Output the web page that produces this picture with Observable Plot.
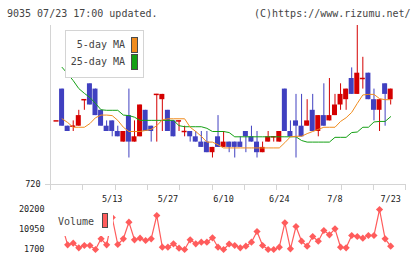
<!DOCTYPE html>
<html>
<head>
<meta charset="utf-8">
<script src="https://cdn.jsdelivr.net/npm/d3@7"></script>
<script src="https://cdn.jsdelivr.net/npm/@observablehq/plot@0.6"></script>
<style>
  html, body { margin: 0; padding: 0; background: #fff; }
  #chart { position: relative; width: 420px; height: 259px; overflow: hidden;
           font-family: "DejaVu Sans Mono", monospace; color: #444; }
  #chart svg { position: absolute; left: 0; }
  .txt { position: absolute; font-size: 10px; line-height: 12px; white-space: pre; }
  .box { position: absolute; box-sizing: border-box; }
  .sw { position: absolute; box-sizing: border-box; border: 1px solid #4a4a4a; }
</style>
</head>
<body>
<div id="chart">
  <div class="txt" style="left:7px;top:8px;">9035 07/23 17:00 updated.</div>
  <div class="txt" style="left:254px;top:8px;">(C)https://www.rizumu.net/</div>
</div>
<script>
// Daily candles, trading days 4/24 .. 7/23 (index 0..60)
const opens  = [732,738,731,731,731,736,739,738,734,731, 732,730,728,733,728,729,734,731,737,736,
                734,732,732,730,730,729,728,728,726,729, 727,728,728,728,730,729,728,726,728,729,
                728,738,730,732,731,731,734,730,733,732, 733,735,736,740,737,740,741,736,734,739, 736];
const highs  = [732,738,731,732,734,736,739,738,734,732, 732,731,730,738,732,735,734,731,737,737,
                734,732,732,731,730,730,730,730,727,733, 730,728,728,729,730,731,730,728,730,729,
                730,738,732,737,737,736,737,733,739,740, 737,739,738,742,750,744,741,738,736,739, 738];
const lows   = [732,731,730,730,731,734,735,733,731,730, 729,729,728,725,728,729,730,728,728,730,
                730,729,730,729,728,728,727,726,725,727, 727,726,725,727,726,728,725,726,728,728,
                728,730,729,725,729,731,730,729,731,732, 733,734,734,737,737,738,736,732,730,731, 735];
const closes = [732,731,730,731,733,736,735,733,731,730, 730,729,730,728,729,735,730,730,737,737,
                730,729,732,730,729,728,727,726,727,727, 728,727,727,727,729,728,726,727,729,729,
                730,730,729,731,729,732,730,733,731,733, 735,737,738,737,741,740,736,734,736,737, 738];

// Moving averages as plotted
const ma5  = [null,732.4,731.7,730.8,730.8,730.8,731.5,732.6,733.1,733.1,
              733.0,732.1,730.8,730.0,730.0,730.0,730.2,730.4,731.1,732.2,
              732.4,732.4,732.4,732.4,730.8,730.0,729.1,728.0,728.0,727.5,
              726.9,726.9,726.9,726.9,726.9,726.9,726.9,726.9,726.9,726.9,
              726.9,727.9,729.0,729.1,729.1,729.6,730.0,730.4,730.8,730.8,
              730.8,731.9,732.6,733.6,735.3,736.9,737.0,737.0,736.2,736.0, 736.0];
const ma25 = [null,742.1,740.9,739.6,738.1,737.2,736.4,735.3,734.1,734.0,
              734.0,734.0,733.1,733.0,732.7,732.1,732.1,732.1,732.1,732.1,
              732.1,732.1,731.1,730.9,730.9,730.9,730.9,730.6,730.0,730.0,
              730.0,729.8,729.0,729.0,729.0,729.0,729.0,729.0,729.0,729.0,
              729.0,729.0,729.0,729.0,728.3,728.0,728.0,728.0,728.0,728.0,
              728.9,728.9,728.9,729.8,729.9,730.8,730.8,731.8,731.9,731.9, 732.8];

// Daily volume
const volumes = [10500,12660,3870,4610,2490,3550,3550,1700,6650,3870,
                 16500,4010,6650,14330,6190,6930,5860,6650,17430,2760,
                 2760,4340,2300,1700,6190,4340,5080,5080,7110,2760,
                 1700,4240,3550,2490,3230,5080,10030,3550,1700,1700,
                 2760,14050,2020,12340,5540,3230,7710,5540,10490,8500,
                 11270,2760,2490,8180,7710,6930,8180,8180,20200,6650, 3230];

// Axis ticks and labels
const dateTickIdx   = [10, 20, 30, 40, 50, 60];
const dateTickText  = ["5/13", "5/27", "6/10", "6/24", "7/8", "7/23"];
const minorTicks    = [-1.08, 4.67, 10.59, 16.34, 22.08, 28.01, 33.75, 39.50, 45.24, 51.17, 56.91, 62.66];
const priceTicks    = [720];
const priceDomain   = [720, 750];
const volumeTicks   = [1700, 10950, 20200];
const xDomain       = [-1.08, 62.66];

const upColor = "#d40000", downColor = "#4040c0";
const ma5Color = "#f08c1e", ma25Color = "#14a014";
const volColor = "#ff5c5c", axisGray = "#d4d4d4", labelInk = "#222";

const candles = opens.map((o, i) => ({i, open: o, high: highs[i], low: lows[i], close: closes[i]}));
const bodies = candles.filter(d => d.open !== d.close);
const dojis  = candles.filter(d => d.open === d.close);
const candleColor = d => d.close >= d.open ? upColor : downColor;
const half = 0.45;

const maRows = ma5.map((v, i) => ({i, ma5: v, ma25: ma25[i]}));
const volRows = volumes.map((v, i) => ({i, v}));

const font = {fontFamily: "DejaVu Sans Mono, monospace", fontSize: "8.5px", background: "transparent"};

const main = Plot.plot({
  width: 420, height: 185,
  marginTop: 5, marginBottom: 21, marginLeft: 50, marginRight: 15,
  style: font,
  x: {type: "linear", domain: xDomain, axis: null, label: null},
  y: {domain: priceDomain, axis: null, label: null},
  marks: [
    Plot.ruleX([xDomain[0]], {stroke: axisGray}),
    Plot.ruleY([priceDomain[0]], {stroke: axisGray}),
    Plot.axisY({ticks: priceTicks, tickSize: 5, tickPadding: 5, stroke: axisGray, fill: labelInk, label: null}),
    Plot.axisX({ticks: minorTicks, tickSize: 6, tickFormat: () => "", stroke: axisGray, label: null}),
    Plot.axisX({ticks: dateTickIdx, tickSize: 0, tickPadding: 11, fill: labelInk, label: null,
                tickFormat: d => dateTickText[dateTickIdx.indexOf(d)]}),
    Plot.ruleX(candles, {x: "i", y1: "low", y2: "high", stroke: candleColor, strokeWidth: 1}),
    Plot.rect(bodies, {x1: d => d.i - half, x2: d => d.i + half, y1: "open", y2: "close", fill: candleColor}),
    Plot.ruleY(dojis, {y: "close", x1: d => d.i - half, x2: d => d.i + half, stroke: candleColor, strokeWidth: 1.5}),
    Plot.line(maRows, {x: "i", y: "ma25", stroke: ma25Color, strokeWidth: 1}),
    Plot.line(maRows, {x: "i", y: "ma5", stroke: ma5Color, strokeWidth: 1})
  ]
});
main.style.top = "20px";

const diamond = {
  draw(ctx, size) {
    const r = Math.sqrt(size / Math.PI);
    ctx.moveTo(0, -r); ctx.lineTo(r, 0); ctx.lineTo(0, r); ctx.lineTo(-r, 0); ctx.closePath();
  }
};

const vol = Plot.plot({
  width: 420, height: 54,
  marginTop: 4, marginBottom: 10, marginLeft: 50, marginRight: 15,
  style: font,
  x: {type: "linear", domain: xDomain, axis: null, label: null},
  y: {domain: [volumeTicks[0], volumeTicks[2]], axis: null, label: null},
  marks: [
    Plot.axisY({ticks: volumeTicks, tickSize: 0, tickPadding: 6, fill: labelInk, label: null,
                tickFormat: d => String(d)}),
    Plot.line(volRows, {x: "i", y: "v", stroke: volColor, strokeWidth: 1.2}),
    Plot.dot(volRows, {x: "i", y: "v", r: 3.6, symbol: diamond, fill: volColor})
  ]
});
vol.style.top = "205px";

const root = document.getElementById("chart");
root.append(main, vol);

// Legends drawn over the plots
root.insertAdjacentHTML("beforeend", `
  <div class="box" style="left:65px;top:30px;width:79px;height:48px;background:#fff;border:1px solid #d4d4d4;"></div>
  <div class="txt" style="left:65px;top:39px;width:60px;text-align:right;">5-day MA</div>
  <div class="txt" style="left:65px;top:56px;width:60px;text-align:right;">25-day MA</div>
  <div class="sw" style="left:131px;top:37px;width:7px;height:16px;background:${ma5Color};"></div>
  <div class="sw" style="left:131px;top:54px;width:7px;height:16px;background:${ma25Color};"></div>
  <div class="box" style="left:50px;top:206px;width:63px;height:30px;background:#fff;"></div>
  <div class="txt" style="left:58px;top:216px;">Volume</div>
  <div class="sw" style="left:102px;top:213px;width:6px;height:15px;background:${volColor};"></div>
`);
</script>
</body>
</html>
